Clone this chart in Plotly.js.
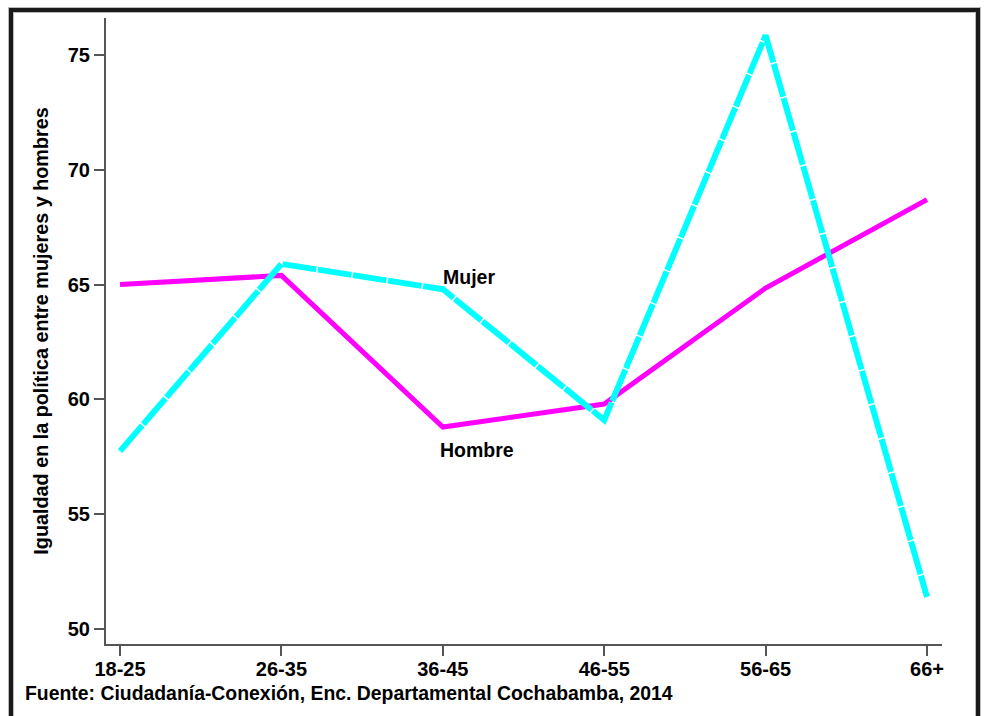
<!DOCTYPE html>
<html>
<head>
<meta charset="utf-8">
<script src="https://cdn.plot.ly/plotly-3.0.1.min.js"></script>
<style>
  html, body { margin: 0; padding: 0; background: #ffffff; }
  #chart { width: 984px; height: 716px; }
</style>
</head>
<body>
<div id="chart"></div>
<script>
// Data
const categories = ["18-25", "26-35", "36-45", "46-55", "56-65", "66+"];
const hombre = [65.0, 65.4, 58.8, 59.8, 64.85, 68.7];
const mujer  = [57.75, 65.9, 64.8, 59.1, 75.85, 51.4];
const seriesNames = ["Hombre", "Mujer"];
const yTitle = "Igualdad en la política entre mujeres y hombres";
const sourceText = "Fuente: Ciudadanía-Conexión, Enc. Departamental Cochabamba, 2014";
const yTickVals = [50, 55, 60, 65, 70, 75];

// Layout geometry (pixels)
const W = 984, H = 716;
const mL = 106, mR = 42, mT = 18, mB = 72;
const pw = W - mL - mR, ph = H - mT - mB;
const px = v => (v - mL) / pw;
const py = v => (H - mB - v) / ph;

const FONT = "Liberation Sans, Arial, Helvetica, sans-serif";
const xIdx = categories.map((c, i) => i);

const traces = [
  {
    x: xIdx, y: hombre, name: seriesNames[0], type: "scatter", mode: "lines",
    line: { color: "#ff00ff", width: 5 }
  },
  {
    x: xIdx, y: mujer, name: seriesNames[1], type: "scatter", mode: "lines",
    line: { color: "#00ffff", width: 6, dash: "34px,1.5px" }
  }
];

const framePath = `M ${px(11)} ${py(740)} L ${px(11)} ${py(10)} L ${px(978)} ${py(10)} L ${px(978)} ${py(740)}`;

const layout = {
  width: W, height: H,
  margin: { l: mL, r: mR, t: mT, b: mB, pad: 0 },
  paper_bgcolor: "#ffffff",
  plot_bgcolor: "#ffffff",
  showlegend: false,
  font: { family: FONT, size: 19, color: "#000000", weight: "bold" },
  xaxis: {
    range: [-0.087, 5.093],
    tickmode: "array", tickvals: xIdx, ticktext: categories,
    showgrid: false, zeroline: false,
    showline: true, linecolor: "#555555", linewidth: 2,
    ticks: "outside", ticklen: 10, tickwidth: 2, tickcolor: "#555555",
    ticklabelstandoff: -4,
    tickfont: { family: FONT, size: 20, color: "#000000", weight: "bold" }
  },
  yaxis: {
    range: [49.35, 76.61],
    tickmode: "array", tickvals: yTickVals,
    showgrid: false, zeroline: false,
    showline: true, linecolor: "#555555", linewidth: 2,
    ticks: "outside", ticklen: 10, tickwidth: 2, tickcolor: "#555555",
    tickfont: { family: FONT, size: 20, color: "#000000", weight: "bold" },
    title: { text: yTitle, standoff: 14, font: { family: FONT, size: 19.8, color: "#000000", weight: "bold" } }
  },
  annotations: [
    { x: 2, y: 65.35, xref: "x", yref: "y", text: seriesNames[1], showarrow: false,
      xanchor: "left", yanchor: "middle", xshift: -2,
      font: { family: FONT, size: 19.5, color: "#000000", weight: "bold" } },
    { x: 2, y: 57.8, xref: "x", yref: "y", text: seriesNames[0], showarrow: false,
      xanchor: "left", yanchor: "middle", xshift: -5,
      font: { family: FONT, size: 19.5, color: "#000000", weight: "bold" } },
    { x: px(23), y: py(693), xref: "paper", yref: "paper", text: sourceText, showarrow: false,
      xanchor: "left", yanchor: "middle",
      font: { family: FONT, size: 19.4, color: "#000000", weight: "bold" } }
  ],
  shapes: [
    { type: "path", path: framePath, xref: "paper", yref: "paper", layer: "below",
      line: { color: "#bbbbbb", width: 6 } },
    { type: "path", path: framePath, xref: "paper", yref: "paper", layer: "below",
      line: { color: "#1a1a1a", width: 4 } }
  ]
};

Plotly.newPlot("chart", traces, layout, { displayModeBar: false, staticPlot: true });
</script>
</body>
</html>
